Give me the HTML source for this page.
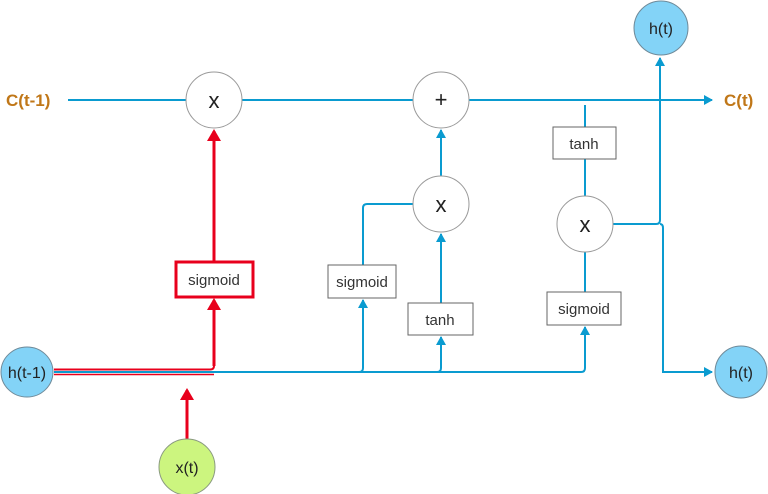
<!DOCTYPE html>
<html><head><style>body{margin:0;background:#fff}svg{display:block}text{font-family:"Liberation Sans",sans-serif}</style></head><body>
<svg width="768" height="494" viewBox="0 0 768 494" xmlns="http://www.w3.org/2000/svg">
<defs>
<marker id="b" markerWidth="10" markerHeight="10" refX="8" refY="5" orient="auto" markerUnits="userSpaceOnUse"><path d="M0,0 L9,5 L0,10 Z" fill="#0a9bd0"/></marker>
<marker id="r" markerWidth="14" markerHeight="14" refX="10" refY="7" orient="auto" markerUnits="userSpaceOnUse"><path d="M0,0 L12,7 L0,14 Z" fill="#e8001c"/></marker>
</defs>
<g stroke="#0a9bd0" stroke-width="2" fill="none">
<line x1="68" y1="100" x2="186" y2="100"/>
<line x1="242" y1="100" x2="413" y2="100"/>
<line x1="469" y1="100" x2="712" y2="100" marker-end="url(#b)"/>
<line x1="441" y1="176" x2="441" y2="130" marker-end="url(#b)"/>
<path d="M363,265 V208 Q363,204 367,204 H413"/>
<line x1="441" y1="303" x2="441" y2="234" marker-end="url(#b)"/>
<line x1="585" y1="105" x2="585" y2="127"/>
<line x1="585" y1="159" x2="585" y2="196"/>
<line x1="585" y1="252" x2="585" y2="292"/>
<path d="M54,372 H581 Q585,372 585,368 V327" marker-end="url(#b)"/>
<path d="M359,372 Q363,372 363,368 V300" marker-end="url(#b)"/>
<path d="M437,372 Q441,372 441,368 V337" marker-end="url(#b)"/>
<path d="M613,224 H656 Q660,224 660,220 V58" marker-end="url(#b)"/>
<path d="M660,224 Q663,224 663,228 V372 H712" marker-end="url(#b)"/>
</g>
<g stroke="#e8001c" stroke-width="3" fill="none">
<path d="M54,369.5 H210 Q214,369.5 214,366 V300" marker-end="url(#r)" stroke-width="2"/>
<line x1="54" y1="374.5" x2="214" y2="374.5" stroke-width="1.5"/>
<line x1="214" y1="366" x2="214" y2="300" stroke-width="3"/>
<line x1="214" y1="262" x2="214" y2="131" marker-end="url(#r)"/>
<line x1="187" y1="439" x2="187" y2="390" marker-end="url(#r)"/>
</g>
<g stroke="#999" stroke-width="1" fill="#fff">
<circle cx="214" cy="100" r="28"/><circle cx="441" cy="100" r="28"/>
<circle cx="441" cy="204" r="28"/><circle cx="585" cy="224" r="28"/>
</g>
<g fill="#222" font-size="22" text-anchor="middle">
<text x="214" y="108">x</text><text x="441" y="107">+</text>
<text x="441" y="212">x</text><text x="585" y="232">x</text>
</g>
<rect x="176" y="262" width="77" height="35" fill="#fff" stroke="#e8001c" stroke-width="3"/>
<g fill="#fff" stroke="#666" stroke-width="1">
<rect x="328" y="265" width="68" height="33"/>
<rect x="408" y="303" width="65" height="32"/>
<rect x="553" y="127" width="63" height="32"/>
<rect x="547" y="292" width="74" height="33"/>
</g>
<g fill="#333" font-size="15" text-anchor="middle">
<text x="214" y="285">sigmoid</text><text x="362" y="287">sigmoid</text>
<text x="440" y="325">tanh</text><text x="584" y="149">tanh</text>
<text x="584" y="314">sigmoid</text>
</g>
<g stroke="#6f8a99" stroke-width="1" fill="#83d3f7">
<ellipse cx="27" cy="372" rx="26" ry="25"/>
<circle cx="661" cy="28" r="27"/>
<circle cx="741" cy="372" r="26"/>
</g>
<circle cx="187" cy="467" r="28" fill="#ccf57f" stroke="#8a9a80"/>
<g fill="#222" font-size="16" text-anchor="middle">
<text x="27" y="378">h(t-1)</text><text x="661" y="34">h(t)</text>
<text x="741" y="378">h(t)</text><text x="187" y="473">x(t)</text>
</g>
<g fill="#c07718" font-size="17" font-weight="bold">
<text x="6" y="106">C(t-1)</text><text x="724" y="106">C(t)</text>
</g>
</svg>
</body></html>
